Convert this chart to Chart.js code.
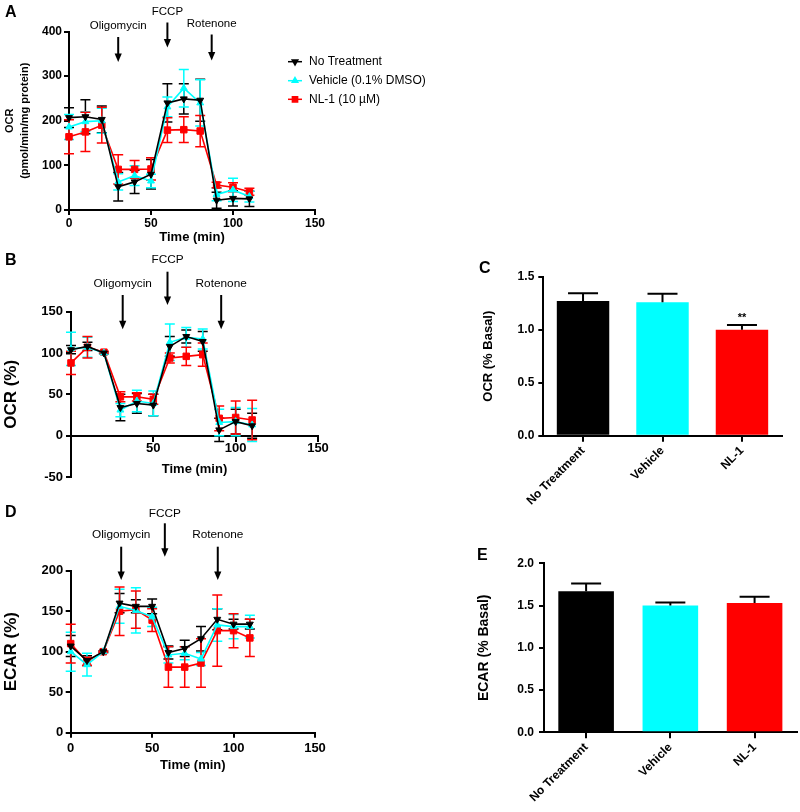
<!DOCTYPE html>
<html><head><meta charset="utf-8">
<script src="https://cdn.jsdelivr.net/npm/chart.js@4/dist/chart.umd.min.js"></script>
<style>
html,body{margin:0;padding:0;background:#fff;}
body{width:800px;height:812px;position:relative;overflow:hidden;}
.p{position:absolute;}
canvas{display:block;}
</style></head><body>
<div class="p" style="left:0;top:0;width:440px;height:250px"><canvas id="cA" width="440" height="250"></canvas></div>
<div class="p" style="left:0;top:240px;width:440px;height:279px"><canvas id="cB" width="440" height="279"></canvas></div>
<div class="p" style="left:0;top:500px;width:440px;height:273px"><canvas id="cD" width="440" height="273"></canvas></div>
<div class="p" style="left:400px;top:250px;width:400px;height:270px"><canvas id="cC" width="400" height="270"></canvas></div>
<div class="p" style="left:400px;top:540px;width:400px;height:272px"><canvas id="cE" width="400" height="272"></canvas></div>
<script>
// ---------------- DATA ----------------
const times = [0, 10, 20, 30, 40, 50, 60, 70, 80, 90, 100, 110];
const seriesNames = ['No Treatment', 'Vehicle (0.1% DMSO)', 'NL-1 (10 \u00b5M)'];
const categories = ['No Treatment', 'Vehicle', 'NL-1'];
const injections = ['Oligomycin', 'FCCP', 'Rotenone'];

// Panel A: OCR (pmol/min/mg protein)
const ocrNoTreatment = [207, 209, 203, 52, 63, 80, 240, 249, 246, 22, 26, 25];
const ocrNoTreatmentErr = [22, 38, 30, 32, 26, 33, 43, 34, 47, 18, 17, 17];
const ocrVehicle = [186, 198, 200, 63, 77, 65, 231, 273, 240, 35, 45, 30];
const ocrVehicleErr = [28, 22, 28, 18, 22, 15, 22, 42, 52, 14, 26, 12];
const ocrNL1 = [164, 175, 190, 91, 91, 92, 179, 180, 177, 56, 51, 41];
const ocrNL1Err = [38, 44, 40, 33, 20, 25, 28, 29, 35, 6, 10, 8];
const injTimesA = [30, 60, 87];

// Panel B: OCR (%)
const ocrPctNoTreatment = [104, 108, 100, 34, 39, 37, 108, 120, 114, 7, 17, 12];
const ocrPctNoTreatmentErr = [5, 5, 1, 16, 12, 13, 12, 8, 12, 14, 15, 15];
const ocrPctVehicle = [105, 107, 100, 31, 42, 39, 113, 119, 117, 16, 17, 13];
const ocrPctVehicleErr = [20, 12, 1, 8, 13, 15, 22, 12, 12, 16, 17, 20];
const ocrPctNL1 = [88, 107, 101, 47, 47, 44, 94, 96, 98, 21, 22, 19];
const ocrPctNL1Err = [14, 13, 1, 6, 5, 6, 6, 11, 14, 15, 20, 24];
const injTimesB = [31.4, 58.6, 91.2];

// Panel D: ECAR (%)
const ecarPctNoTreatment = [107, 89, 100, 160, 156, 156, 99, 104, 116, 140, 134, 134];
const ecarPctNoTreatmentErr = [13, 6, 1, 12, 8, 9, 8, 10, 15, 13, 6, 6];
const ecarPctVehicle = [100, 84, 100, 156, 151, 143, 96, 98, 91, 133, 131, 131];
const ecarPctVehicleErr = [24, 14, 1, 21, 28, 12, 10, 8, 8, 20, 15, 14];
const ecarPctNL1 = [110, 88, 100, 150, 152, 139, 81, 81, 86, 126, 126, 117];
const ecarPctNL1Err = [24, 5, 1, 30, 23, 14, 25, 25, 30, 44, 21, 23];
const injTimesD = [31, 57.8, 90.3];

// Panel C: OCR (% Basal)
const ocrBasal = [1.27, 1.26, 1.00];
const ocrBasalErr = [0.075, 0.08, 0.045];
const ocrSignif = ['', '', '**'];

// Panel E: ECAR (% Basal)
const ecarBasal = [1.67, 1.50, 1.53];
const ecarBasalErr = [0.09, 0.035, 0.075];

// ---------------- STYLE ----------------
const FONT = '"Liberation Sans", Arial, Helvetica, sans-serif';
const BLACK = '#000000', CYAN = '#00FFFF', RED = '#FF0000';
Chart.defaults.font.family = FONT;
Chart.defaults.color = '#000';
Chart.defaults.animation = false;

// ---------------- PLUGINS ----------------
function errorBarPlugin(when) {
  const draw = (chart) => {
    const ctx = chart.ctx;
    chart.data.datasets.forEach((ds, i) => {
      if (!ds.errors) return;
      const meta = chart.getDatasetMeta(i);
      const ys = chart.scales[meta.yAxisID];
      ctx.save();
      ctx.strokeStyle = ds.errorColor || ds.borderColor;
      ctx.lineWidth = ds.errorWidth || 1.5;
      meta.data.forEach((el, j) => {
        const d = ds.data[j];
        const v = (typeof d === 'object') ? d.y : d;
        const e = ds.errors[j];
        const x = el.x;
        const yTop = ys.getPixelForValue(v + e);
        const yBot = ds.errorUpOnly ? ys.getPixelForValue(v) : ys.getPixelForValue(v - e);
        const h = (ds.capWidth || 10) / 2;
        ctx.beginPath();
        ctx.moveTo(x, yTop); ctx.lineTo(x, yBot);
        ctx.moveTo(x - h, yTop); ctx.lineTo(x + h, yTop);
        if (!ds.errorUpOnly) { ctx.moveTo(x - h, yBot); ctx.lineTo(x + h, yBot); }
        ctx.stroke();
      });
      ctx.restore();
    });
  };
  return when === 'before' ? { id: 'errB', beforeDatasetsDraw: draw } : { id: 'errA', afterDatasetsDraw: draw };
}

function injectionPlugin(tms, offs, fontSize) {
  return {
    id: 'inj',
    afterDraw(chart) {
      const ctx = chart.ctx, xs = chart.scales.x, top = chart.chartArea.top;
      ctx.save();
      ctx.fillStyle = '#000'; ctx.strokeStyle = '#000';
      ctx.font = fontSize + 'px ' + FONT;
      ctx.textAlign = 'center'; ctx.textBaseline = 'middle';
      injections.forEach((name, k) => {
        const x = xs.getPixelForValue(tms[k]);
        const L = offs[k];
        ctx.fillText(name, x, top + L[0]);
        const y0 = top + L[1], y1 = top + L[2];
        ctx.lineWidth = 2;
        ctx.beginPath(); ctx.moveTo(x, y0); ctx.lineTo(x, y1 - 6); ctx.stroke();
        ctx.beginPath(); ctx.moveTo(x - 3.6, y1 - 8.5); ctx.lineTo(x + 3.6, y1 - 8.5); ctx.lineTo(x, y1); ctx.closePath(); ctx.fill();
      });
      ctx.restore();
    }
  };
}

function letterPlugin(letter, x, y) {
  return {
    id: 'letter',
    afterDraw(chart) {
      const ctx = chart.ctx;
      ctx.save();
      ctx.fillStyle = '#000';
      ctx.font = 'bold 16px ' + FONT;
      ctx.textAlign = 'left'; ctx.textBaseline = 'middle';
      ctx.fillText(letter, x, y);
      ctx.restore();
    }
  };
}

const legendPlugin = {
  id: 'legendA',
  afterDraw(chart) {
    const ctx = chart.ctx;
    const rows = [61.7, 80.7, 99.3];
    ctx.save();
    chart.data.datasets.forEach((ds, i) => {
      const y = rows[i];
      ctx.strokeStyle = ds.borderColor; ctx.fillStyle = ds.borderColor;
      ctx.lineWidth = 1.5;
      ctx.beginPath(); ctx.moveTo(288, y); ctx.lineTo(302, y); ctx.stroke();
      Chart.helpers.drawPoint(ctx, { pointStyle: ds.pointStyle, rotation: ds.pointRotation, radius: ds.pointRadius * 0.8, borderWidth: 1 }, 295, y);
      ctx.fillStyle = '#000';
      ctx.font = '12px ' + FONT;
      ctx.textAlign = 'left'; ctx.textBaseline = 'middle';
      ctx.fillText(ds.label, 309, y);
    });
    ctx.restore();
  }
};

function signifPlugin(labels) {
  return {
    id: 'signif',
    afterDraw(chart) {
      const ctx = chart.ctx, ds = chart.data.datasets[0];
      const meta = chart.getDatasetMeta(0), ys = chart.scales.y;
      ctx.save();
      ctx.fillStyle = '#000';
      ctx.font = 'bold 11px ' + FONT;
      ctx.textAlign = 'center'; ctx.textBaseline = 'middle';
      labels.forEach((t, j) => {
        if (!t) return;
        const y = ys.getPixelForValue(ds.data[j] + ds.errors[j]);
        ctx.fillText(t, meta.data[j].x, y - 7);
      });
      ctx.restore();
    }
  };
}

// ---------------- BUILDERS ----------------
function mkDs(label, vals, errs, color, style, rot, r) {
  return {
    label: label,
    data: times.map((t, i) => ({ x: t, y: vals[i] })),
    errors: errs,
    borderColor: color, backgroundColor: color, borderWidth: 1.6,
    pointStyle: style, pointRotation: rot, pointRadius: r, pointBorderWidth: 1,
    pointBackgroundColor: color, pointBorderColor: color,
    tension: 0, fill: false, clip: false, capWidth: 10, errorWidth: 1.5
  };
}

function axisGrid(len) {
  return { drawOnChartArea: false, drawTicks: true, tickLength: len, color: '#000', lineWidth: 2 };
}

function makeLineChart(id, o) {
  return new Chart(document.getElementById(id), {
    type: 'line',
    data: { datasets: [
      mkDs(seriesNames[0], o.nt, o.ntErr, BLACK, 'triangle', 180, 4),
      mkDs(seriesNames[1], o.veh, o.vehErr, CYAN, 'triangle', 0, 4),
      mkDs(seriesNames[2], o.nl, o.nlErr, RED, 'rect', 0, 4.6)
    ]},
    options: {
      responsive: false, animation: false, events: [],
      layout: { padding: o.pad },
      plugins: { legend: { display: false }, tooltip: { enabled: false } },
      scales: {
        x: {
          type: 'linear', min: 0, max: 150, position: o.xPos,
          ticks: { stepSize: 50, autoSkip: false, maxRotation: 0, padding: o.xTickPad,
                   font: { size: o.tickSize, weight: 'bold' },
                   callback: o.hideZero ? (v => v === 0 ? '' : v) : (v => v) },
          grid: axisGrid(5),
          border: { color: '#000', width: 2 },
          title: { display: true, text: 'Time (min)', font: { size: 13, weight: 'bold' }, padding: { top: 0, bottom: o.xTitlePad } },
          afterFit: s => { s.height = o.xH; }
        },
        y: {
          min: o.yMin, max: o.yMax,
          ticks: { stepSize: o.yStep, padding: o.yTickPad, font: { size: o.tickSize, weight: 'bold' } },
          grid: axisGrid(5),
          border: { color: '#000', width: 2 },
          title: { display: true, text: o.yTitle, font: { size: o.yTitleSize, weight: 'bold', lineHeight: o.yTitleLH }, padding: { top: o.yTitlePad, bottom: 0 } },
          afterFit: s => { s.width = o.yW; }
        }
      }
    },
    plugins: o.plugins
  });
}

function makeBarChart(id, o) {
  return new Chart(document.getElementById(id), {
    type: 'bar',
    data: { labels: categories, datasets: [{
      data: o.vals, errors: o.errs,
      backgroundColor: [BLACK, CYAN, RED], borderWidth: 0,
      barPercentage: 0.66, categoryPercentage: 1,
      errorColor: '#000', errorUpOnly: true, capWidth: 30, errorWidth: 2
    }]},
    options: {
      responsive: false, animation: false, events: [],
      layout: { padding: o.pad },
      plugins: { legend: { display: false }, tooltip: { enabled: false } },
      scales: {
        x: {
          grid: { offset: false, drawOnChartArea: false, drawTicks: true, tickLength: 6, color: '#000', lineWidth: 2 },
          border: { color: '#000', width: 2 },
          ticks: { autoSkip: false, maxRotation: 45, minRotation: 45, padding: 2, font: { size: 12, weight: 'bold' } },
          afterFit: s => { s.height = o.xH; }
        },
        y: {
          min: 0, max: o.yMax,
          ticks: { stepSize: 0.5, padding: o.yTickPad, font: { size: 12, weight: 'bold' }, callback: v => Number(v).toFixed(1) },
          grid: axisGrid(5),
          border: { color: '#000', width: 2 },
          title: { display: true, text: o.yTitle, font: { size: o.yTitleSize, weight: 'bold' }, padding: { top: o.yTitlePad, bottom: 0 } },
          afterFit: s => { s.width = o.yW; }
        }
      }
    },
    plugins: o.plugins
  });
}

// ---------------- CHARTS ----------------
makeLineChart('cA', {
  nt: ocrNoTreatment, ntErr: ocrNoTreatmentErr, veh: ocrVehicle, vehErr: ocrVehicleErr, nl: ocrNL1, nlErr: ocrNL1Err,
  pad: { top: 31.5, right: 125, left: 0, bottom: 0 }, xPos: 'bottom', xH: 40, xTickPad: 1, xTitlePad: 5,
  tickSize: 12, yMin: 0, yMax: 400, yStep: 100, yTickPad: 2, yW: 69,
  yTitle: ['OCR', '(pmol/min/mg protein)'], yTitleSize: 11, yTitleLH: 1.3, yTitlePad: 3.3,
  plugins: [errorBarPlugin('before'),
    injectionPlugin(injTimesA, [[-5.5, 5.5, 30.5], [-20, -9, 16], [-8, 3, 29]], 11.5),
    letterPlugin('A', 5, 12.5), legendPlugin]
});

makeLineChart('cB', {
  nt: ocrPctNoTreatment, ntErr: ocrPctNoTreatmentErr, veh: ocrPctVehicle, vehErr: ocrPctVehicleErr, nl: ocrPctNL1, nlErr: ocrPctNL1Err,
  pad: { top: 71.7, right: 122, left: 0, bottom: 42 }, xPos: { y: 0 }, hideZero: true, xH: 42, xTickPad: 0, xTitlePad: 0,
  tickSize: 13, yMin: -50, yMax: 150, yStep: 50, yTickPad: 3, yW: 71,
  yTitle: 'OCR (%)', yTitleSize: 17, yTitleLH: 1.2, yTitlePad: 1,
  plugins: [errorBarPlugin('before'),
    injectionPlugin(injTimesB, [[-28.4, -16.7, 17.6], [-51.7, -40, -6.7], [-28.4, -16.7, 17.6]], 11.8),
    letterPlugin('B', 5, 21)]
});

makeLineChart('cD', {
  nt: ecarPctNoTreatment, ntErr: ecarPctNoTreatmentErr, veh: ecarPctVehicle, vehErr: ecarPctVehicleErr, nl: ecarPctNL1, nlErr: ecarPctNL1Err,
  pad: { top: 70.7, right: 125, left: 0, bottom: 0 }, xPos: 'bottom', xH: 40.3, xTickPad: 3, xTitlePad: 0,
  tickSize: 13, yMin: 0, yMax: 200, yStep: 50, yTickPad: 2.5, yW: 70.7,
  yTitle: 'ECAR (%)', yTitleSize: 17, yTitleLH: 1.2, yTitlePad: 1,
  plugins: [errorBarPlugin('before'),
    injectionPlugin(injTimesD, [[-35.7, -24, 9.3], [-57.4, -47.4, -14], [-35.7, -24, 9.3]], 11.8),
    letterPlugin('D', 5, 13)]
});

makeBarChart('cC', {
  vals: ocrBasal, errs: ocrBasalErr, yMax: 1.5,
  pad: { top: 26.7, right: 18.3, left: 0, bottom: 0 }, xH: 84.3, yW: 143.3, yTickPad: 4,
  yTitle: 'OCR (% Basal)', yTitleSize: 13, yTitlePad: 80.2,
  plugins: [errorBarPlugin('after'), signifPlugin(ocrSignif), letterPlugin('C', 79, 19)]
});

makeBarChart('cE', {
  vals: ecarBasal, errs: ecarBasalErr, yMax: 2.0,
  pad: { top: 23.3, right: 3.3, left: 0, bottom: 0 }, xH: 79.7, yW: 144, yTickPad: 5,
  yTitle: 'ECAR (% Basal)', yTitleSize: 14, yTitlePad: 75.6,
  plugins: [errorBarPlugin('after'), letterPlugin('E', 77, 16)]
});
</script>
</body></html>
